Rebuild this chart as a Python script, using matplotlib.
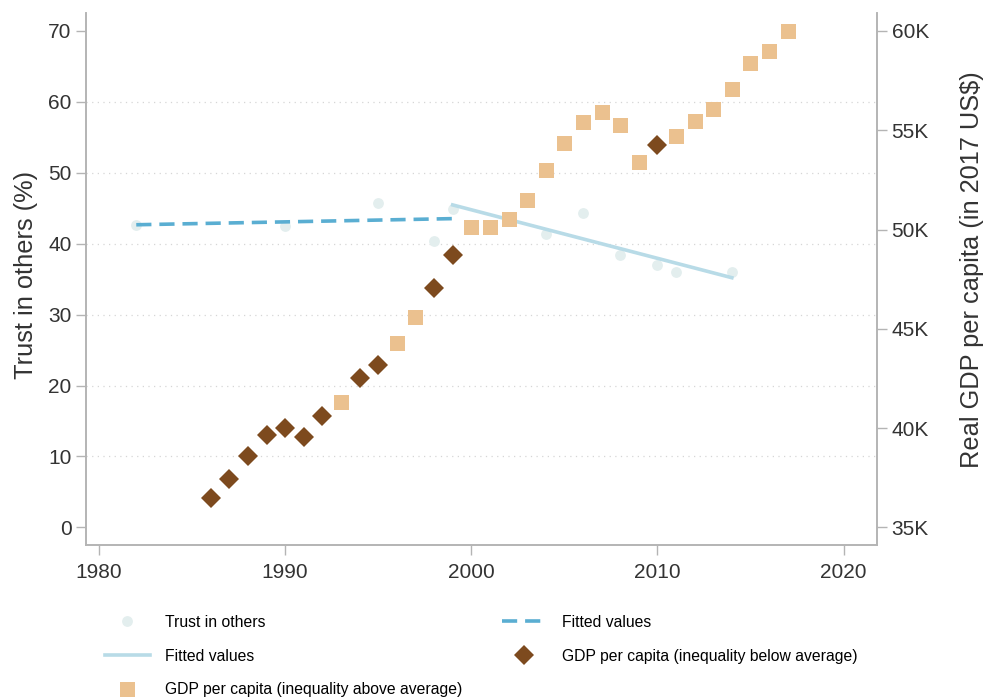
import numpy as np
import matplotlib.pyplot as plt
from matplotlib.ticker import FuncFormatter

plt.rcParams['font.family'] = ['Liberation Sans', 'DejaVu Sans']

# Share of people who say most others can be trusted (%)
trust_years = [1982, 1990, 1995, 1998, 1999, 2004, 2006, 2008, 2010, 2011, 2014]
trust_values = [42.6, 42.5, 45.7, 40.4, 44.9, 41.3, 44.3, 38.4, 37.0, 36.0, 36.0]

# Real GDP per capita, split by whether inequality was below or above average
gdp_low_years = [1986, 1987, 1988, 1989, 1990, 1991, 1992, 1994, 1995, 1998, 1999, 2010]
gdp_low_values = [36500, 37420, 38580, 39640, 39990, 39540, 40600, 42510, 43170, 47050, 48710, 54250]
gdp_high_years = [1993, 1996, 1997, 2000, 2001, 2002, 2003, 2004, 2005, 2006, 2007, 2008, 2009,
                  2011, 2012, 2013, 2014, 2015, 2016, 2017]
gdp_high_values = [41300, 44270, 45590, 50120, 50120, 50520, 51480, 52990, 54360, 55410, 55920,
                   55260, 53400, 54710, 55460, 56070, 57080, 58390, 58990, 60000]

# Two periods for the linear fits (1999 belongs to both)
early_end = 1999
late_start = 1999

C_TRUST = '#e3eeee'
C_FIT_DASH = '#5aaed2'
C_FIT_SOLID = '#b8dbe7'
C_LOW = '#7d4a1e'
C_HIGH = '#ebc18f'
C_AXIS = '#b4b4b4'
C_TEXT = '#333333'

ty = np.array(trust_years)
tv = np.array(trust_values)


def linear_fit(mask):
    xs = ty[mask]
    slope, intercept = np.polyfit(xs, tv[mask], 1)
    xr = np.array([xs.min(), xs.max()])
    return xr, slope * xr + intercept


x_early, y_early = linear_fit(ty <= early_end)
x_late, y_late = linear_fit(ty >= late_start)

fig = plt.figure(figsize=(9.92, 6.97), dpi=100)
ax = fig.add_axes([0.0867, 0.218, 0.7974, 0.763])
ax2 = ax.twinx()

h_trust, = ax.plot(ty, tv, 'o', color=C_TRUST, markersize=7.8, markeredgewidth=0, zorder=2)
h_dash, = ax.plot(x_early, y_early, color=C_FIT_DASH, lw=2.6, dashes=(4.2, 2.2), zorder=3)
h_solid, = ax.plot(x_late, y_late, color=C_FIT_SOLID, lw=2.6, zorder=3)

h_low, = ax2.plot(gdp_low_years, gdp_low_values, 'D', color=C_LOW, markersize=10,
                  markeredgewidth=0, zorder=4)
h_high, = ax2.plot(gdp_high_years, gdp_high_values, 's', color=C_HIGH, markersize=10.8,
                   markeredgewidth=0, zorder=4)

ax.set_xlim(1979.3, 2021.8)
ax.set_ylim(-2.5, 72.5)
ax2.set_ylim(35000 - 2.5 / 70 * 25000, 35000 + 72.5 / 70 * 25000)

ax.set_xticks([1980, 1990, 2000, 2010, 2020])
ax.set_yticks(range(0, 71, 10))
ax2.set_yticks(range(35000, 60001, 5000))
ax2.yaxis.set_major_formatter(FuncFormatter(lambda v, p: '%dK' % (v / 1000)))

for y in range(10, 61, 10):
    ax.axhline(y, color='#d6d6d6', lw=0.9, ls=(0, (1, 3.5)), zorder=1)

for a in (ax, ax2):
    a.spines['top'].set_visible(False)
    for s in ('left', 'right', 'bottom'):
        a.spines[s].set_color(C_AXIS)
        a.spines[s].set_linewidth(1.2)
    a.tick_params(colors=C_AXIS, labelcolor=C_TEXT, labelsize=15, length=7, width=1)

ax.set_ylabel('Trust in others (%)', fontsize=18.3, color=C_TEXT)
ax2.set_ylabel('Real GDP per capita (in 2017 US$)', fontsize=18.3, color=C_TEXT)
ax.yaxis.set_label_coords(-0.061, 0.508)
ax2.yaxis.set_label_coords(1.105, 0.517)
ax.tick_params(axis='x', pad=6)

handles = [h_trust, h_solid, h_high, h_dash, h_low]
labels = ['Trust in others', 'Fitted values', 'GDP per capita (inequality above average)',
          'Fitted values', 'GDP per capita (inequality below average)']
fig.legend(handles, labels, loc='upper left', bbox_to_anchor=(0.1058, 0.118), ncol=2,
           frameon=False, fontsize=11.3, handlelength=2.85, handletextpad=1.0,
           columnspacing=2.5, labelspacing=1.2, borderaxespad=0, borderpad=0)

fig.savefig('out.png', dpi=100)
